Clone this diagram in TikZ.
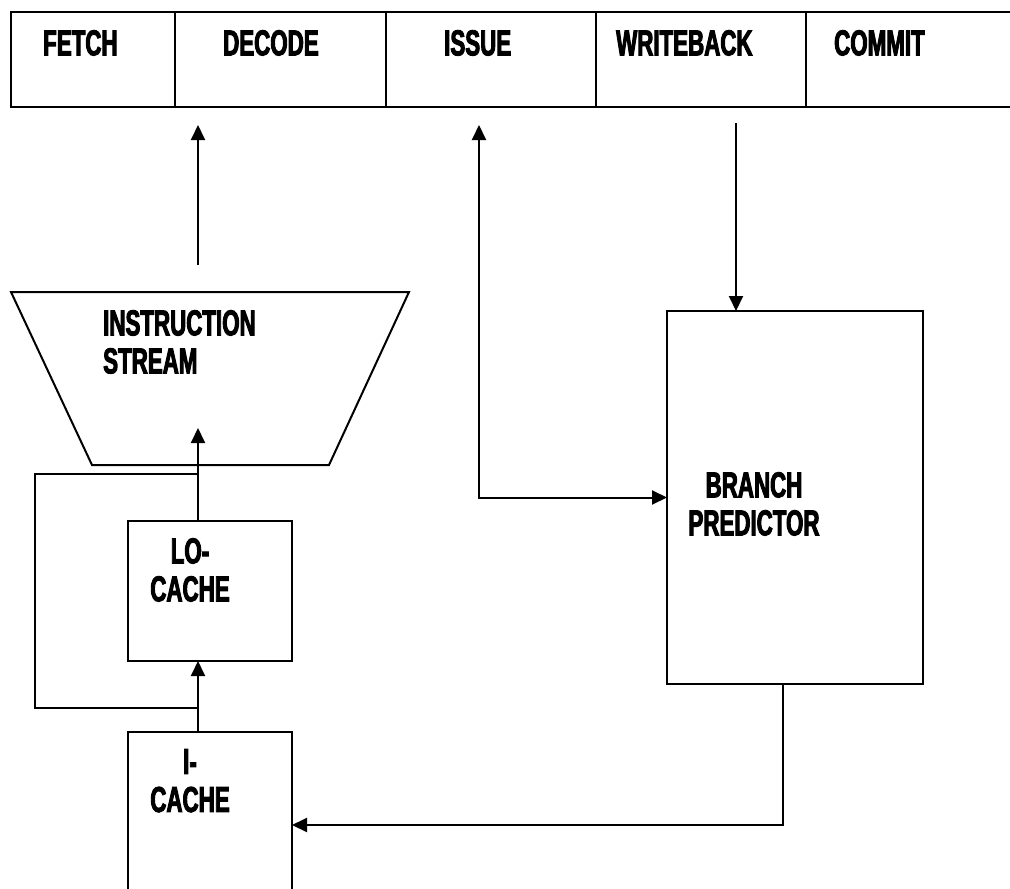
\documentclass[tikz,border=0pt]{standalone}
\usepackage{fontspec}
\newfontfamily\stagefont{Liberation Sans}[UprightFont={* Bold},FakeStretch=0.62,FakeBold=2.6]
\usetikzlibrary{arrows.meta,calc}
\tikzstyle{line}=[draw, line width=2pt]
\tikzstyle{box}=[draw, line width=2pt, rectangle, anchor=north west, inner sep=0pt, outer sep=0pt]
\tikzstyle{arrow}=[line width=2pt, -{Triangle[length=15pt,width=14pt]}]
\tikzstyle{caption}=[inner sep=0pt, font={\stagefont\fontsize{36}{38}\selectfont}]

\begin{document}
\begin{tikzpicture}[x=1pt, y=-1pt, line join=miter]
	\clip (0,0) rectangle (1010,889);
	
	% Pipeline stages
	\foreach \stage/\xpos/\w in {fetch/11/164, decode/175/211, issue/386/210, writeback/596/210, commit/806/220}
	\node[box, minimum width=\w pt, minimum height=95pt] (\stage) at (\xpos,12) {};
	\foreach \stage/\xpos/\txt in {fetch/43/FETCH, decode/223/DECODE, issue/444/ISSUE, writeback/616/WRITEBACK, commit/834/COMMIT}
	\node[caption, anchor=north west] (\stage-label) at (\xpos,30) {\txt};
	
	% Instruction stream
	\coordinate (s1) at (11,292);
	\coordinate (s2) at (409,292);
	\coordinate (s3) at (329,465);
	\coordinate (s4) at (92,465);
	\draw[line] (s1) -- (s2) -- (s3) -- (s4) -- cycle;
	\node[caption, anchor=north west, align=left] (stream) at (103,310) {INSTRUCTION\\STREAM};
	
	% Caches and predictor
	\node[box, minimum width=164pt, minimum height=140pt] (lo) at (128,521) {};
	\node[box, minimum width=164pt, minimum height=180pt] (icache) at (128,732) {};
	\node[box, minimum width=256pt, minimum height=373pt] (bp) at (667,311) {};
	\node[caption, anchor=north, align=center] (lo-label) at (190,538) {LO-\\CACHE};
	\node[caption, anchor=north, align=center] (icache-label) at (190,749) {I-\\CACHE};
	\node[caption, anchor=north, align=center] (bp-label) at (754,472) {BRANCH\\PREDICTOR};
	
	% Free ends
	\coordinate (decode-in) at (198,125);
	\coordinate (stream-out) at (198,265);
	\coordinate (stream-in) at (198,428);
	\coordinate (issue-in) at (479,125);
	\coordinate (wb-out) at (736,123);
	\coordinate (bp-out) at (783,0);
	\coordinate (icache-in) at (0,825);
	\coordinate (loop-a) at (198,708);
	\coordinate (loop-b) at (198,474);
	
	\draw[arrow] (stream-out) -- (decode-in);
	\draw[arrow] (lo.north -| stream-in) -- (stream-in);
	\draw[arrow] (icache.north -| stream-in) -- (lo.south -| stream-in);
	\draw[line] (loop-a) -- (35,708) -- (35,474) -- (loop-b);
	\draw[line, {Triangle[length=15pt,width=14pt]}-{Triangle[length=15pt,width=14pt]}] (issue-in) |- (bp.west);
	\draw[arrow] (wb-out) -- (wb-out |- bp.north);
	\draw[arrow] (bp.south -| bp-out) |- (icache.east |- icache-in);
\end{tikzpicture}
\end{document}
